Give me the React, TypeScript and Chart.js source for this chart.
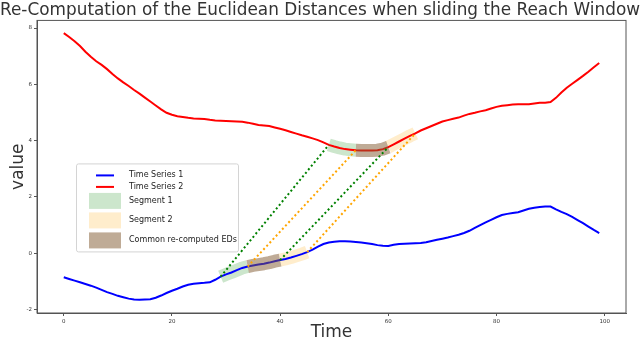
import React, { useEffect, useRef } from "react";
import { Chart, registerables } from "chart.js";

Chart.register(...registerables);

const TITLE = "Re-Computation of the Euclidean Distances when sliding the Reach Window";
const X_LABEL = "Time";
const Y_LABEL = "value";

const xValues: number[] = Array.from({ length: 100 }, (_, i) => i);

const series1: number[] = [
  -0.85, -0.91, -0.97, -1.03, -1.09, -1.15, -1.22, -1.3, -1.38, -1.44,
  -1.51, -1.56, -1.61, -1.64, -1.65, -1.64, -1.63, -1.58, -1.5, -1.41,
  -1.33, -1.26, -1.18, -1.12, -1.08, -1.06, -1.05, -1.03, -0.94, -0.83,
  -0.75, -0.68, -0.6, -0.52, -0.47, -0.43, -0.4, -0.37, -0.33, -0.28,
  -0.24, -0.2, -0.15, -0.09, -0.03, 0.04, 0.13, 0.24, 0.33, 0.38,
  0.41, 0.43, 0.43, 0.42, 0.4, 0.38, 0.36, 0.33, 0.29, 0.27,
  0.26, 0.3, 0.33, 0.34, 0.35, 0.36, 0.37, 0.39, 0.44, 0.48,
  0.52, 0.56, 0.61, 0.66, 0.72, 0.8, 0.9, 1.0, 1.1, 1.19,
  1.28, 1.36, 1.4, 1.43, 1.46, 1.52, 1.58, 1.62, 1.64, 1.66,
  1.66, 1.56, 1.47, 1.39, 1.29, 1.18, 1.07, 0.95, 0.83, 0.72,
];

const series2: number[] = [
  7.82, 7.68, 7.53, 7.36, 7.16, 6.98, 6.82, 6.69, 6.54, 6.37,
  6.21, 6.07, 5.94, 5.8, 5.67, 5.53, 5.39, 5.25, 5.11, 4.99,
  4.92, 4.87, 4.84, 4.81, 4.79, 4.78, 4.77, 4.74, 4.72, 4.71,
  4.7, 4.69, 4.68, 4.67, 4.64, 4.6, 4.56, 4.54, 4.52, 4.47,
  4.42, 4.37, 4.31, 4.25, 4.19, 4.14, 4.08, 4.02, 3.94, 3.85,
  3.79, 3.74, 3.7, 3.68, 3.66, 3.65, 3.65, 3.65, 3.66, 3.7,
  3.77, 3.87, 3.97, 4.07, 4.17, 4.26, 4.36, 4.44, 4.52, 4.6,
  4.68, 4.73, 4.78, 4.82, 4.89, 4.95, 4.99, 5.04, 5.08, 5.14,
  5.2, 5.24, 5.26, 5.28, 5.29, 5.29, 5.29, 5.32, 5.35, 5.35,
  5.37, 5.52, 5.71, 5.88, 6.02, 6.16, 6.3, 6.45, 6.61, 6.76,
];

// segment index ranges [start, end] on each series
const segment1TS1: number[] = [29, 40];
const segment1TS2: number[] = [49, 60];
const segment2TS1: number[] = [34, 45];
const segment2TS2: number[] = [54, 65];
const commonTS1: number[] = [34, 40];
const commonTS2: number[] = [54, 60];

const xTicks: number[] = [0, 20, 40, 60, 80, 100];
const yTicks: number[] = [-2, 0, 2, 4, 6, 8];

const legendLabels: string[] = [
  "Time Series 1",
  "Time Series 2",
  "Segment 1",
  "Segment 2",
  "Common re-computed EDs",
];

const BLUE = "#0000ff";
const RED = "#ff0000";
const SEG1 = "rgba(0,128,0,0.2)";
const SEG2 = "rgba(255,165,0,0.2)";
const COMMON = "rgba(128,88,45,0.5)";
const GREEN_DOT = "#008000";
const ORANGE_DOT = "#ffa500";

const pts = (ys: number[]) => xValues.map((x, i) => ({ x, y: ys[i] }));
const slice = (ys: number[], a: number, b: number) =>
  xValues.filter((x) => x >= a && x <= b).map((x) => ({ x, y: ys[x] }));
const link = (r1: number[], r2: number[], k: number) => [
  { x: r1[k], y: series1[r1[k]] },
  { x: r2[k], y: series2[r2[k]] },
];

const FONT = "'DejaVu Sans', sans-serif";

export default function App() {
  const ref = useRef<HTMLCanvasElement | null>(null);

  useEffect(() => {
    if (!ref.current) return;
    const band = (data: any[], color: string, order: number) => ({
      data,
      borderColor: color,
      borderWidth: 13,
      borderCapStyle: "butt" as const,
      borderJoinStyle: "round" as const,
      pointRadius: 0,
      fill: false,
      order,
    });
    const dotted = (data: any[], color: string) => ({
      data,
      borderColor: color,
      borderWidth: 2,
      borderDash: [2, 2.6],
      pointRadius: 0,
      fill: false,
      order: 0,
    });

    const framePlugin = {
      id: "frameLegend",
      afterDraw(chart: any) {
        const { ctx, chartArea: ca } = chart;
        ctx.save();
        ctx.strokeStyle = "#555";
        ctx.lineWidth = 1;
        ctx.strokeRect(ca.left, ca.top, ca.right - ca.left, ca.bottom - ca.top);

        // legend box
        const lx = ca.left + 39;
        const ly = ca.top + 143;
        const w = 162;
        const h = 88;
        ctx.fillStyle = "rgba(255,255,255,0.85)";
        ctx.strokeStyle = "#d4d4d4";
        ctx.lineWidth = 1;
        ctx.beginPath();
        (ctx as any).roundRect(lx + 0.5, ly + 0.5, w, h, 2);
        ctx.fill();
        ctx.stroke();

        const handleX = lx + 13;
        const handleW = 32;
        const textX = lx + 53;
        const rows = [12, 23.5, 37.5, 57, 77];
        ctx.lineWidth = 2;
        ctx.strokeStyle = BLUE;
        ctx.beginPath();
        ctx.moveTo(handleX + 7, ly + rows[0]);
        ctx.lineTo(handleX + 25, ly + rows[0]);
        ctx.stroke();
        ctx.strokeStyle = RED;
        ctx.beginPath();
        ctx.moveTo(handleX + 7, ly + rows[1]);
        ctx.lineTo(handleX + 25, ly + rows[1]);
        ctx.stroke();
        const patch = (c: string, cy: number) => {
          ctx.fillStyle = c;
          ctx.fillRect(handleX, ly + cy - 8, handleW, 16);
        };
        patch(SEG1, rows[2]);
        patch(SEG2, rows[3]);
        patch(COMMON, rows[4]);

        ctx.fillStyle = "#222";
        ctx.font = "8px " + FONT;
        ctx.textBaseline = "middle";
        ctx.textAlign = "left";
        legendLabels.forEach((t, i) => ctx.fillText(t, textX, ly + rows[i]));
        ctx.restore();
      },
    };

    const chart = new Chart(ref.current, {
      type: "line",
      data: {
        datasets: [
          dotted(link(segment1TS1, segment1TS2, 0), GREEN_DOT),
          dotted(link(segment1TS1, segment1TS2, 1), GREEN_DOT),
          dotted(link(segment2TS1, segment2TS2, 0), ORANGE_DOT),
          dotted(link(segment2TS1, segment2TS2, 1), ORANGE_DOT),
          band(slice(series1, commonTS1[0], commonTS1[1]), COMMON, 1),
          band(slice(series2, commonTS2[0], commonTS2[1]), COMMON, 1),
          {
            label: legendLabels[0],
            data: pts(series1),
            borderColor: BLUE,
            borderWidth: 2,
            pointRadius: 0,
            fill: false,
            order: 2,
          },
          {
            label: legendLabels[1],
            data: pts(series2),
            borderColor: RED,
            borderWidth: 2,
            pointRadius: 0,
            fill: false,
            order: 2,
          },
          // segment parts outside the common part
          band(slice(series1, segment1TS1[0], commonTS1[0]), SEG1, 3),
          band(slice(series2, segment1TS2[0], commonTS2[0]), SEG1, 3),
          band(slice(series1, commonTS1[1], segment2TS1[1]), SEG2, 3),
          band(slice(series2, commonTS2[1], segment2TS2[1]), SEG2, 3),
        ] as any,
      },
      options: {
        animation: false,
        responsive: false,
        maintainAspectRatio: false,
        layout: { padding: { left: 0, right: 0, top: 0, bottom: 0 } },
        elements: { line: { tension: 0 }, point: { radius: 0 } },
        plugins: {
          legend: { display: false },
          tooltip: { enabled: false },
          title: {
            display: true,
            text: TITLE,
            color: "#333",
            font: { family: FONT, size: 17.6, weight: "normal", lineHeight: 1.16 },
            padding: { top: 0, bottom: 0 },
          },
        },
        scales: {
          x: {
            type: "linear",
            min: -4.95,
            max: 103.95,
            afterFit: (s: any) => {
              s.height = 28;
            },
            afterBuildTicks: (s: any) => {
              s.ticks = xTicks.map((v) => ({ value: v }));
            },
            ticks: {
              font: { family: FONT, size: 5.5 },
              color: "#333",
              padding: 2,
              maxRotation: 0,
            },
            grid: {
              display: true,
              drawOnChartArea: false,
              drawTicks: true,
              tickLength: 3,
              color: "#555",
            },
            border: { display: true, color: "#555" },
            title: {
              display: true,
              text: X_LABEL,
              color: "#333",
              font: { family: FONT, size: 17, lineHeight: 1 },
              padding: { top: 0, bottom: 0 },
            },
          },
          y: {
            type: "linear",
            min: -2.12,
            max: 8.27,
            afterFit: (s: any) => {
              s.width = 37;
            },
            afterBuildTicks: (s: any) => {
              s.ticks = yTicks.map((v) => ({ value: v }));
            },
            ticks: {
              font: { family: FONT, size: 5.5 },
              color: "#333",
              padding: 2,
            },
            grid: {
              display: true,
              drawOnChartArea: false,
              drawTicks: true,
              tickLength: 3,
              color: "#555",
            },
            border: { display: true, color: "#555" },
            title: {
              display: true,
              text: Y_LABEL,
              color: "#333",
              font: { family: FONT, size: 17, lineHeight: 1 },
              padding: { top: 10, bottom: 0 },
            },
          },
          yRight: {
            type: "linear",
            position: "right",
            display: true,
            min: 0,
            max: 1,
            afterFit: (s: any) => {
              s.width = 14;
            },
            ticks: { display: false },
            grid: { display: false },
            border: { display: false },
          },
        },
      } as any,
      plugins: [framePlugin],
    });
    return () => chart.destroy();
  }, []);

  return (
    <div style={{ position: "absolute", left: 0, top: 0, width: 640, height: 341, background: "#fff" }}>
      <canvas ref={ref} width={640} height={341} style={{ display: "block" }} />
    </div>
  );
}
